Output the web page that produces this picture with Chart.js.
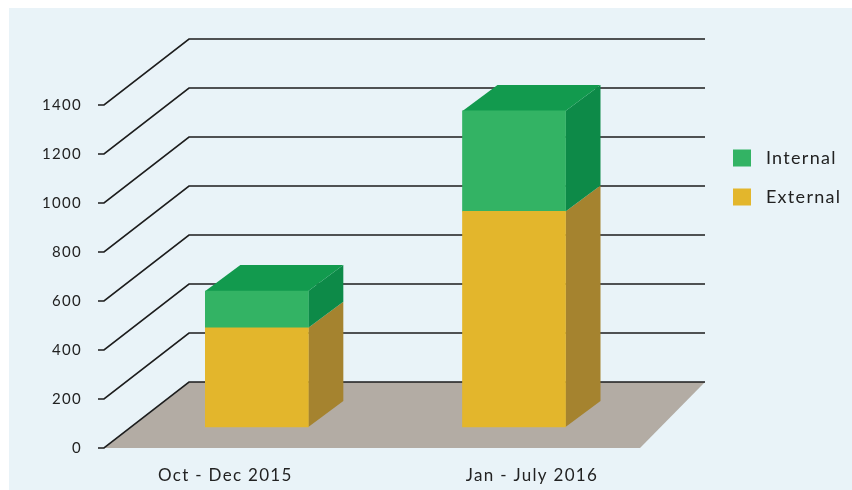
<!DOCTYPE html>
<html>
<head>
<meta charset="utf-8">
<style>
  html, body { margin: 0; padding: 0; background: #fff; }
  #wrap { width: 852px; height: 490px; }
</style>
<script src="https://cdn.jsdelivr.net/npm/chart.js@4"></script>
</head>
<body>
<div id="wrap"><canvas id="chart" width="852" height="490"></canvas></div>
<script>
const categories = ['Oct - Dec 2015', 'Jan - July 2016'];
const external = [405, 880];
const internal = [150, 410];
const yTicks = [0, 200, 400, 600, 800, 1000, 1200, 1400];

// fake 3d: wall offset, bar depth and where the bars sit on the floor
const wallDx = 85, wallDy = -66;
const barDx = 35, barDy = -26;
const barShiftX = [19.5, -30], barShiftY = -21;

const threeD = {
  id: 'threeD',
  beforeDraw(chart) {
    const ctx = chart.ctx;
    ctx.save();
    ctx.fillStyle = '#e9f3f8';
    ctx.fillRect(9, 8, 843, 482);
    ctx.restore();
    ctx.letterSpacing = '1.3px';
  },
  afterLayout(chart) {
    const l = chart.legend;
    const w = l.right - l.left;
    l.left = 712;
    l.right = 712 + w;
    l.top = 128;
    l.bottom = 128 + l.height;
  },
  afterDatasetsUpdate(chart) {
    chart.data.datasets.forEach((ds, d) => {
      chart.getDatasetMeta(d).data.forEach((bar, i) => {
        bar.x += barShiftX[i];
        bar.y += barShiftY;
        bar.base += barShiftY;
      });
    });
  },
  beforeDatasetsDraw(chart) {
    const ctx = chart.ctx, y = chart.scales.y;
    const y0 = y.getPixelForValue(0);
    ctx.save();
    // floor
    ctx.fillStyle = '#b3aca4';
    ctx.beginPath();
    ctx.moveTo(105, y0);
    ctx.lineTo(105 + wallDx, y0 + wallDy);
    ctx.lineTo(705, y0 + wallDy);
    ctx.lineTo(640, y0);
    ctx.closePath();
    ctx.fill();
    // wall lines
    ctx.strokeStyle = '#1d1d1d';
    ctx.lineWidth = 1.6;
    yTicks.forEach(v => {
      const py = y.getPixelForValue(v);
      ctx.beginPath();
      ctx.moveTo(98, py);
      ctx.lineTo(104, py);
      ctx.lineTo(104 + wallDx, py + wallDy);
      ctx.lineTo(705, py + wallDy);
      ctx.stroke();
    });
    // bar sides and tops
    chart.data.datasets.forEach((ds, d) => {
      chart.getDatasetMeta(d).data.forEach(bar => {
        const right = bar.x + bar.width / 2, left = bar.x - bar.width / 2;
        ctx.fillStyle = ds.sideColor;
        ctx.beginPath();
        ctx.moveTo(right, bar.y);
        ctx.lineTo(right + barDx, bar.y + barDy);
        ctx.lineTo(right + barDx, bar.base + barDy);
        ctx.lineTo(right, bar.base);
        ctx.closePath();
        ctx.fill();
        if (ds.topColor) {
          ctx.fillStyle = ds.topColor;
          ctx.beginPath();
          ctx.moveTo(left, bar.y);
          ctx.lineTo(left + barDx, bar.y + barDy);
          ctx.lineTo(right + barDx, bar.y + barDy);
          ctx.lineTo(right, bar.y);
          ctx.closePath();
          ctx.fill();
        }
      });
    });
    ctx.restore();
  }
};

new Chart(document.getElementById('chart'), {
  type: 'bar',
  data: {
    labels: categories,
    datasets: [
      { label: 'External', data: external, backgroundColor: '#e3b62c', sideColor: '#a5832f' },
      { label: 'Internal', data: internal, backgroundColor: '#33b364', sideColor: '#0d8a48', topColor: '#129a4e' }
    ]
  },
  plugins: [threeD],
  options: {
    responsive: false,
    animation: false,
    layout: { padding: { top: 105, right: 27, left: 0, bottom: 0 } },
    datasets: { bar: { barThickness: 103 } },
    scales: {
      x: {
        stacked: true,
        grid: { display: false },
        border: { display: false },
        ticks: { color: '#222', font: { family: 'Lato', size: 17 }, padding: 9, maxRotation: 0, labelOffset: -12 },
        afterFit(scale) { scale.height = 42; }
      },
      y: {
        stacked: true,
        min: 0,
        max: 1400,
        grid: { display: false, drawTicks: false },
        border: { display: false },
        ticks: { stepSize: 200, color: '#222', font: { family: 'Lato', size: 15 }, padding: 2, callback: v => String(v) },
        afterFit(scale) { scale.width = 84; }
      }
    },
    plugins: {
      tooltip: { enabled: false },
      legend: {
        position: 'right',
        align: 'start',
        reverse: true,
        labels: {
          boxWidth: 18,
          boxHeight: 17,
          padding: 21,
          color: '#222',
          font: { family: 'Lato', size: 18 },
          generateLabels(chart) {
            return Chart.defaults.plugins.legend.labels.generateLabels(chart).map(item => {
              item.text = ' ' + item.text;
              item.lineWidth = 0;
              return item;
            });
          }
        }
      }
    }
  }
});
</script>
</body>
</html>
